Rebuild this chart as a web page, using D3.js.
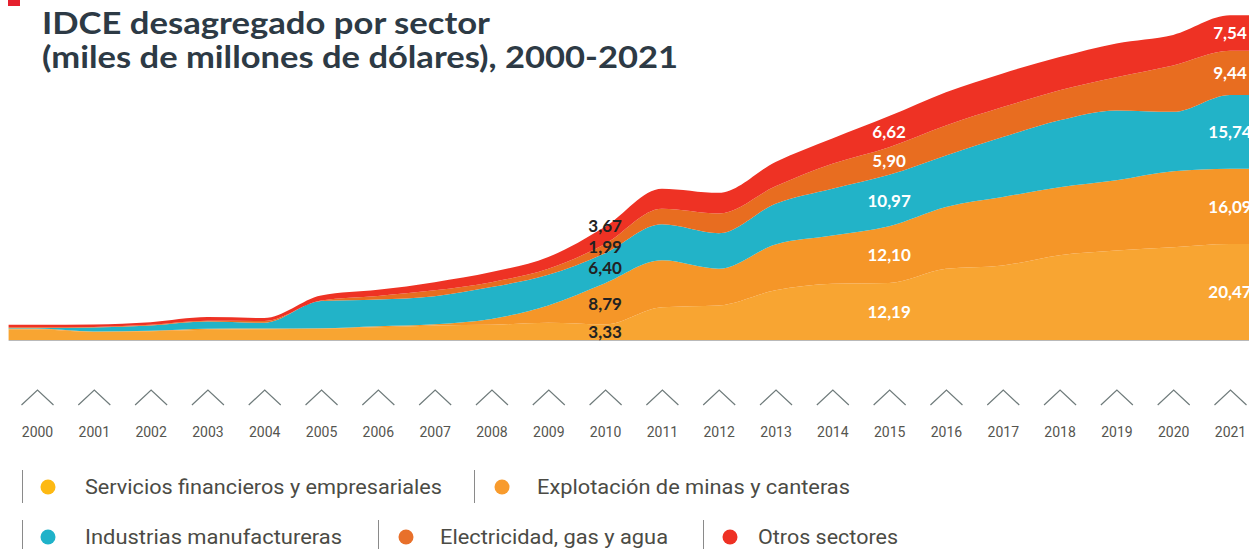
<!DOCTYPE html>
<html lang="es">
<head>
<meta charset="utf-8">
<script src="https://cdn.jsdelivr.net/npm/d3@7"></script>
<style>
  html, body { margin: 0; padding: 0; background: #fff; overflow: hidden; }
  svg { display: block; }
</style>
</head>
<body>
<svg id="chart" width="1249" height="549"></svg>
<script>
// IDCE por sector, miles de millones de dólares
const years = [2000, 2001, 2002, 2003, 2004, 2005, 2006, 2007, 2008, 2009, 2010,
               2011, 2012, 2013, 2014, 2015, 2016, 2017, 2018, 2019, 2020, 2021];

const servicios    = [2.24, 1.75, 1.88, 2.20, 2.30, 2.40, 2.70, 3.10, 3.25, 3.68, 3.33,
                      7.00, 7.37, 10.60, 12.00, 12.19, 15.20, 15.90, 18.10, 19.10, 19.80, 20.47];
const minas        = [0.22, 0.05, 0.09, 0.20, 0.15, 0.10, 0.25, 0.27, 1.25, 3.69, 8.79,
                      10.00, 7.83, 9.80, 10.30, 12.10, 13.20, 14.60, 14.50, 15.00, 16.20, 16.09];
const industrias   = [0.10, 0.87, 1.13, 1.55, 1.22, 5.80, 5.70, 5.99, 6.80, 6.53, 6.40,
                      7.70, 7.60, 8.70, 10.00, 10.97, 11.00, 12.80, 14.30, 14.90, 12.70, 15.74];
const electricidad = [0.14, 0.13, 0.15, 0.15, 0.39, 0.14, 0.75, 1.24, 1.05, 1.30, 1.99,
                      3.30, 4.20, 3.70, 5.30, 5.90, 6.40, 6.40, 6.40, 7.10, 9.90, 9.44];
const otros        = [0.55, 0.50, 0.55, 0.80, 0.64, 1.06, 1.30, 1.75, 2.15, 2.50, 3.67,
                      4.30, 4.40, 5.20, 5.40, 6.62, 7.10, 7.20, 7.10, 7.20, 6.50, 7.54];

const sectorNames = ["Servicios financieros y empresariales", "Explotación de minas y canteras",
                     "Industrias manufactureras", "Electricidad, gas y agua", "Otros sectores"];
const labelYears = [2010, 2015, 2021];

const title = ["IDCE desagregado por sector", "(miles de millones de dólares), 2000-2021"];

// Colours
const areaColors   = ["#f8a532", "#f59628", "#22b3c8", "#e86d20", "#ee3224"];
const legendColors = ["#fdb913", "#f89b2d", "#1fb2c9", "#e8702a", "#ee3124"];
const labelColors  = { 2010: "#222222", 2015: "#ffffff", 2021: "#ffffff" };

const seriesValues = [servicios, minas, industrias, electricidad, otros];
const keys = sectorNames;
const rows = years.map((yr, i) => {
  const r = { year: yr };
  keys.forEach((k, j) => { r[k] = seriesValues[j][i]; });
  return r;
});

const svg = d3.select("#chart");
const W = 1249, H = 549;

const x = d3.scaleLinear().domain([2000, 2021]).range([37, 1230]);
const y = d3.scaleLinear().domain([0, 70]).range([340, 12]);

const stacked = d3.stack().keys(keys)(rows);

// the band bleeds half a year past the first and last point
const bleed = layer => {
  const pts = layer.map(d => ({ year: d.data.year, y0: d[0], y1: d[1] }));
  const first = pts[0], last = pts[pts.length - 1];
  return [{ ...first, year: first.year - 0.5 }, ...pts, { ...last, year: last.year + 0.5 }];
};

const area = d3.area()
  .x(d => x(d.year))
  .y0(d => y(d.y0))
  .y1(d => y(d.y1))
  .curve(d3.curveMonotoneX);

const gAreas = svg.append("g");
gAreas.selectAll("path")
  .data(stacked)
  .join("path")
  .attr("d", s => area(bleed(s)))
  .attr("fill", (s, i) => areaColors[i]);

// baseline
svg.append("line")
  .attr("x1", x(1999.5)).attr("x2", W)
  .attr("y1", y(0) + 0.5).attr("y2", y(0) + 0.5)
  .attr("stroke", "#b9b9b9").attr("stroke-width", 1);

// value labels at selected years
const fmt = d3.formatLocale({ decimal: ",", thousands: ".", grouping: [3], currency: ["", ""] }).format(".2f");
const gLabels = svg.append("g")
  .attr("font-family", "Lato, 'Open Sans', sans-serif")
  .attr("font-weight", 700)
  .attr("font-size", 17)
  .attr("text-anchor", "middle");

labelYears.forEach(yr => {
  const i = years.indexOf(yr);
  // band centres, pushed apart when they crowd each other
  const pos = stacked.map(s => (y(s[i][0]) + y(s[i][1])) / 2);
  for (let j = 1; j < pos.length; j++) {
    if (pos[j - 1] - pos[j] < 21) pos[j] = pos[j - 1] - 21;
  }
  stacked.forEach((s, j) => {
    gLabels.append("text")
      .attr("x", x(yr))
      .attr("y", pos[j])
      .attr("dy", "0.36em")
      .attr("fill", labelColors[yr])
      .text(fmt(seriesValues[j][i]));
  });
});

// axis: chevron marks with year labels
const axis = d3.axisBottom(x).tickValues(years).tickFormat(d3.format("d")).tickSize(0).tickPadding(0);
const gAxis = svg.append("g").attr("transform", "translate(0,432)").call(axis);
gAxis.select(".domain").remove();
gAxis.selectAll(".tick text")
  .attr("y", 0).attr("dy", "0.36em")
  .attr("font-family", "Roboto, 'Open Sans', sans-serif")
  .attr("font-size", 14)
  .attr("fill", "#55554f");
gAxis.selectAll(".tick").append("path")
  .attr("d", "M-16,-27L0,-42L16,-27")
  .attr("fill", "none")
  .attr("stroke", "#6f7b7b")
  .attr("stroke-width", 1.2);

// title
svg.append("rect").attr("x", 8).attr("y", 0).attr("width", 12).attr("height", 6).attr("fill", "#e5202e");
const gTitle = svg.append("g")
  .attr("font-family", "Lato, sans-serif")
  .attr("font-weight", 700)
  .attr("font-size", 31)
  .attr("fill", "#2d3a45");
gTitle.append("text").attr("x", 42).attr("y", 34).text(title[0])
  .attr("textLength", 448).attr("lengthAdjust", "spacingAndGlyphs");
gTitle.append("text").attr("x", 42).attr("y", 68).text(title[1])
  .attr("textLength", 636).attr("lengthAdjust", "spacingAndGlyphs");

// legend
const legendLayout = [
  { row: 487, sep: 22,  dot: 48,  tx: 85,  width: 357 },
  { row: 487, sep: 474, dot: 502, tx: 537, width: 313 },
  { row: 537, sep: 22,  dot: 48,  tx: 85,  width: 257 },
  { row: 537, sep: 378, dot: 406, tx: 440, width: 228 },
  { row: 537, sep: 703, dot: 730, tx: 758, width: 140 }
];
const gLegend = svg.append("g")
  .attr("font-family", "Roboto, 'Open Sans', sans-serif")
  .attr("font-size", 21)
  .attr("fill", "#4b4b45");
legendLayout.forEach((L, i) => {
  const g = gLegend.append("g");
  g.append("line")
    .attr("x1", L.sep + 0.5).attr("x2", L.sep + 0.5)
    .attr("y1", L.row - 17).attr("y2", L.row + 16)
    .attr("stroke", "#8a8a8a").attr("stroke-width", 1);
  g.append("circle")
    .attr("cx", L.dot).attr("cy", L.row)
    .attr("r", 7.5)
    .attr("fill", legendColors[i]);
  g.append("text")
    .attr("x", L.tx).attr("y", L.row).attr("dy", "0.35em")
    .attr("textLength", L.width).attr("lengthAdjust", "spacingAndGlyphs")
    .text(sectorNames[i]);
});
</script>
</body>
</html>
